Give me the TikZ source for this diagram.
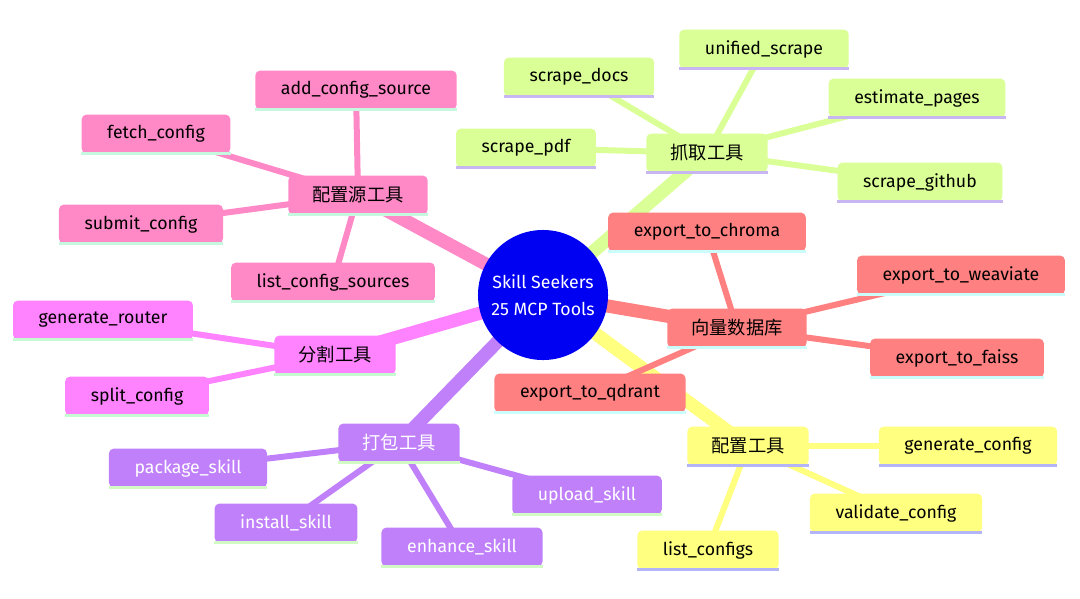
\documentclass[tikz,border=0pt]{standalone}
\usepackage{fontspec}
\setmainfont{Fira Sans}
\newfontfamily\cjk{Noto Sans CJK SC}
\usepackage{tikz}
\usetikzlibrary{backgrounds}

\definecolor{pinkfill}{HTML}{FF88C6}
\definecolor{pinkline}{HTML}{C6F8E0}
\definecolor{limefill}{HTML}{DAFF96}
\definecolor{limeline}{HTML}{C8B6F2}
\definecolor{redfill}{HTML}{FF8080}
\definecolor{redline}{HTML}{CCFDFD}
\definecolor{yellowfill}{HTML}{FFFF80}
\definecolor{yellowline}{HTML}{B4B4F8}
\definecolor{violetfill}{HTML}{C080FA}
\definecolor{violetline}{HTML}{D2FAC4}
\definecolor{magentafill}{HTML}{FF82FF}
\definecolor{magentaline}{HTML}{C6FAD0}
\definecolor{rootfill}{HTML}{0000F2}

\begin{document}
\begin{tikzpicture}[
    x=0.025cm, y=-0.025cm,
    box/.style={rectangle, rounded corners=0.12cm, fill=#1, minimum height=0.97cm, inner xsep=0.64cm, inner ysep=0pt, font=\fontsize{12.6}{14}\selectfont},
    head/.style={box=#1, inner xsep=0.6cm, font=\cjk\fontsize{13}{15}\selectfont},
    root/.style={circle, fill=rootfill, text=white, minimum size=3.25cm, inner sep=0pt, align=center, font=\fontsize{12.6}{19}\selectfont},
    trunk/.style={line width=0.33cm},
    twig/.style={line width=0.15cm}
]
\useasboundingbox (0,0) rectangle (1080,599);

\node[root] (root) at (543,295) {Skill Seekers\\25 MCP Tools};

% config sources
\node[head=pinkfill] (src) at (358,195) {配置源工具};
\node[box=pinkfill] (add) at (356,90) {add\_config\_source};
\node[box=pinkfill] (fetch) at (156,134) {fetch\_config};
\node[box=pinkfill] (submit) at (141,224) {submit\_config};
\node[box=pinkfill] (listsrc) at (333,282) {list\_config\_sources};

% scraping
\node[head=limefill] (scrape) at (707,153) {抓取工具};
\node[box=limefill] (docs) at (579,77) {scrape\_docs};
\node[box=limefill] (pdf) at (526,148) {scrape\_pdf};
\node[box=limefill] (unified) at (764,49) {unified\_scrape};
\node[box=limefill] (estimate) at (917,98) {estimate\_pages};
\node[box=limefill] (github) at (920,182) {scrape\_github};

% vector stores
\node[head=redfill] (vec) at (737,328) {向量数据库};
\node[box=redfill] (chroma) at (707,232) {export\_to\_chroma};
\node[box=redfill] (weaviate) at (961,275) {export\_to\_weaviate};
\node[box=redfill] (faiss) at (957,358) {export\_to\_faiss};
\node[box=redfill] (qdrant) at (590,393) {export\_to\_qdrant};

% config tools
\node[head=yellowfill] (cfg) at (748,446) {配置工具};
\node[box=yellowfill] (gen) at (968,446) {generate\_config};
\node[box=yellowfill] (valid) at (896,513) {validate\_config};
\node[box=yellowfill] (listcfg) at (708,550) {list\_configs};

% packaging
\node[head=violetfill, text=white] (pack) at (399,443) {打包工具};
\node[box=violetfill, text=white] (package) at (188,468) {package\_skill};
\node[box=violetfill, text=white] (install) at (286,523) {install\_skill};
\node[box=violetfill, text=white] (enhance) at (462,547) {enhance\_skill};
\node[box=violetfill, text=white] (upload) at (587,495) {upload\_skill};

% splitting
\node[head=magentafill] (split) at (335,355) {分割工具};
\node[box=magentafill] (router) at (103,320) {generate\_router};
\node[box=magentafill] (splitcfg) at (137,396) {split\_config};

% underlines
\foreach \n/\c in {src/pinkline,add/pinkline,fetch/pinkline,submit/pinkline,listsrc/pinkline,
    scrape/limeline,docs/limeline,pdf/limeline,unified/limeline,estimate/limeline,github/limeline,
    vec/redline,chroma/redline,weaviate/redline,faiss/redline,qdrant/redline,
    cfg/yellowline,gen/yellowline,valid/yellowline,listcfg/yellowline,
    pack/violetline,package/violetline,install/violetline,enhance/violetline,upload/violetline,
    split/magentaline,router/magentaline,splitcfg/magentaline}
  {\draw[line width=0.075cm, \c] (\n.south west) -- (\n.south east);}

\begin{scope}[on background layer]
\foreach \b/\c in {src/pinkfill,scrape/limefill,vec/redfill,cfg/yellowfill,pack/violetfill,split/magentafill}
  {\draw[trunk, \c] (root.center) -- (\b.center);}
\foreach \a/\b/\c in {src/add/pinkfill,src/fetch/pinkfill,src/submit/pinkfill,src/listsrc/pinkfill,
    scrape/docs/limefill,scrape/pdf/limefill,scrape/unified/limefill,scrape/estimate/limefill,scrape/github/limefill,
    vec/chroma/redfill,vec/weaviate/redfill,vec/faiss/redfill,vec/qdrant/redfill,
    cfg/gen/yellowfill,cfg/valid/yellowfill,cfg/listcfg/yellowfill,
    pack/package/violetfill,pack/install/violetfill,pack/enhance/violetfill,pack/upload/violetfill,
    split/router/magentafill,split/splitcfg/magentafill}
  {\draw[twig, \c] (\a.center) -- (\b.center);}
\end{scope}
\end{tikzpicture}
\end{document}
